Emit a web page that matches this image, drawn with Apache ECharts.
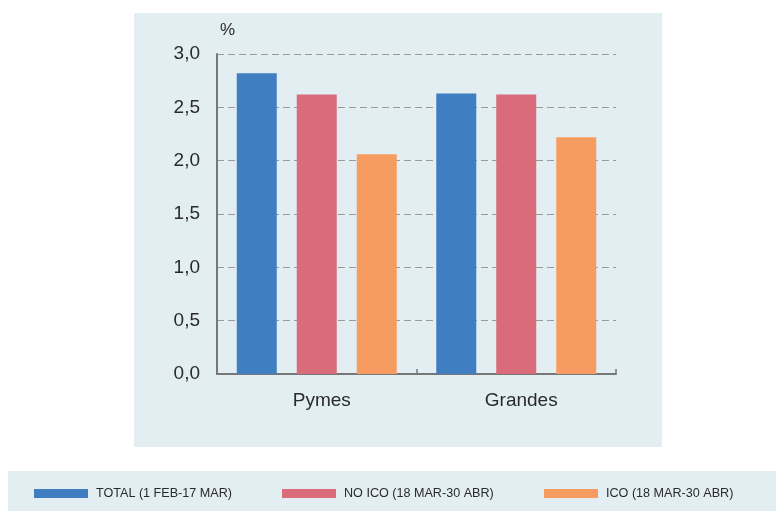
<!DOCTYPE html>
<html>
<head>
<meta charset="utf-8">
<script src="https://cdn.jsdelivr.net/npm/echarts@6/dist/echarts.min.js"></script>
<style>
html,body{margin:0;padding:0;background:#ffffff;}
#chart{width:776px;height:511px;}
</style>
</head>
<body>
<div id="chart"></div>
<script>
var categories = ['Pymes', 'Grandes'];
var seriesNames = ['TOTAL (1 FEB-17 MAR)', 'NO ICO (18 MAR-30 ABR)', 'ICO (18 MAR-30 ABR)'];
var totalValues = [2.82, 2.63];
var noIcoValues = [2.62, 2.62];
var icoValues = [2.06, 2.22];
var yTicks = [0, 0.5, 1.0, 1.5, 2.0, 2.5, 3.0];
var colors = ['#3f7fc1', '#d96b7b', '#f79c61'];

var chart = echarts.init(document.getElementById('chart'), null, {renderer: 'canvas'});
var mainFont = "'Liberation Sans', Arial, sans-serif";
var legendFont = "'Liberation Sans Narrow', 'Liberation Sans', sans-serif";
var legendLefts = [34, 282, 544];
var values = [totalValues, noIcoValues, icoValues];

var option = {
  animation: false,
  backgroundColor: '#ffffff',
  graphic: [
    {type: 'rect', z: -10, silent: true, shape: {x: 134, y: 13, width: 528, height: 434}, style: {fill: '#e3eef3'}},
    {type: 'rect', z: -10, silent: true, shape: {x: 8, y: 471, width: 768, height: 40}, style: {fill: '#e3eef3'}}
  ],
  legend: seriesNames.map(function (n, i) {
    return {
      data: [n],
      left: legendLefts[i],
      top: 487,
      padding: 0,
      itemWidth: 54,
      itemHeight: 9,
      itemGap: 8,
      icon: 'rect',
      selectedMode: false,
      textStyle: {fontFamily: legendFont, fontSize: 12.6, color: '#2a2a2a', padding: [0, 0, 0, 3]}
    };
  }),
  grid: {left: 217, right: 160, top: 54, bottom: 137, containLabel: false},
  xAxis: {
    type: 'category',
    data: categories,
    axisLine: {show: true, lineStyle: {color: '#777777', width: 2}},
    axisTick: {show: true, inside: true, length: 5, lineStyle: {color: '#777777', width: 1.5}},
    axisLabel: {fontFamily: mainFont, fontSize: 19, color: '#2a2a2a', margin: 17, padding: [0, 0, 0, 10]}
  },
  yAxis: {
    type: 'value',
    min: 0,
    max: 3,
    interval: 0.5,
    name: '%',
    nameLocation: 'end',
    nameGap: 15,
    nameTextStyle: {fontFamily: mainFont, fontSize: 17, color: '#2a2a2a', align: 'left', padding: [0, 0, 0, 3]},
    axisLine: {show: true, lineStyle: {color: '#777777', width: 2}},
    axisTick: {show: false},
    axisLabel: {
      fontFamily: mainFont, fontSize: 19, color: '#2a2a2a', margin: 17,
      formatter: function (v) { return v.toFixed(1).replace('.', ','); }
    },
    splitLine: {show: true, lineStyle: {color: '#999999', type: [7, 4], width: 1}}
  },
  series: seriesNames.map(function (n, i) {
    return {
      name: n,
      type: 'bar',
      data: values[i],
      barWidth: 40,
      barGap: '50%',
      itemStyle: {color: colors[i]}
    };
  })
};
chart.setOption(option);
</script>
</body>
</html>
